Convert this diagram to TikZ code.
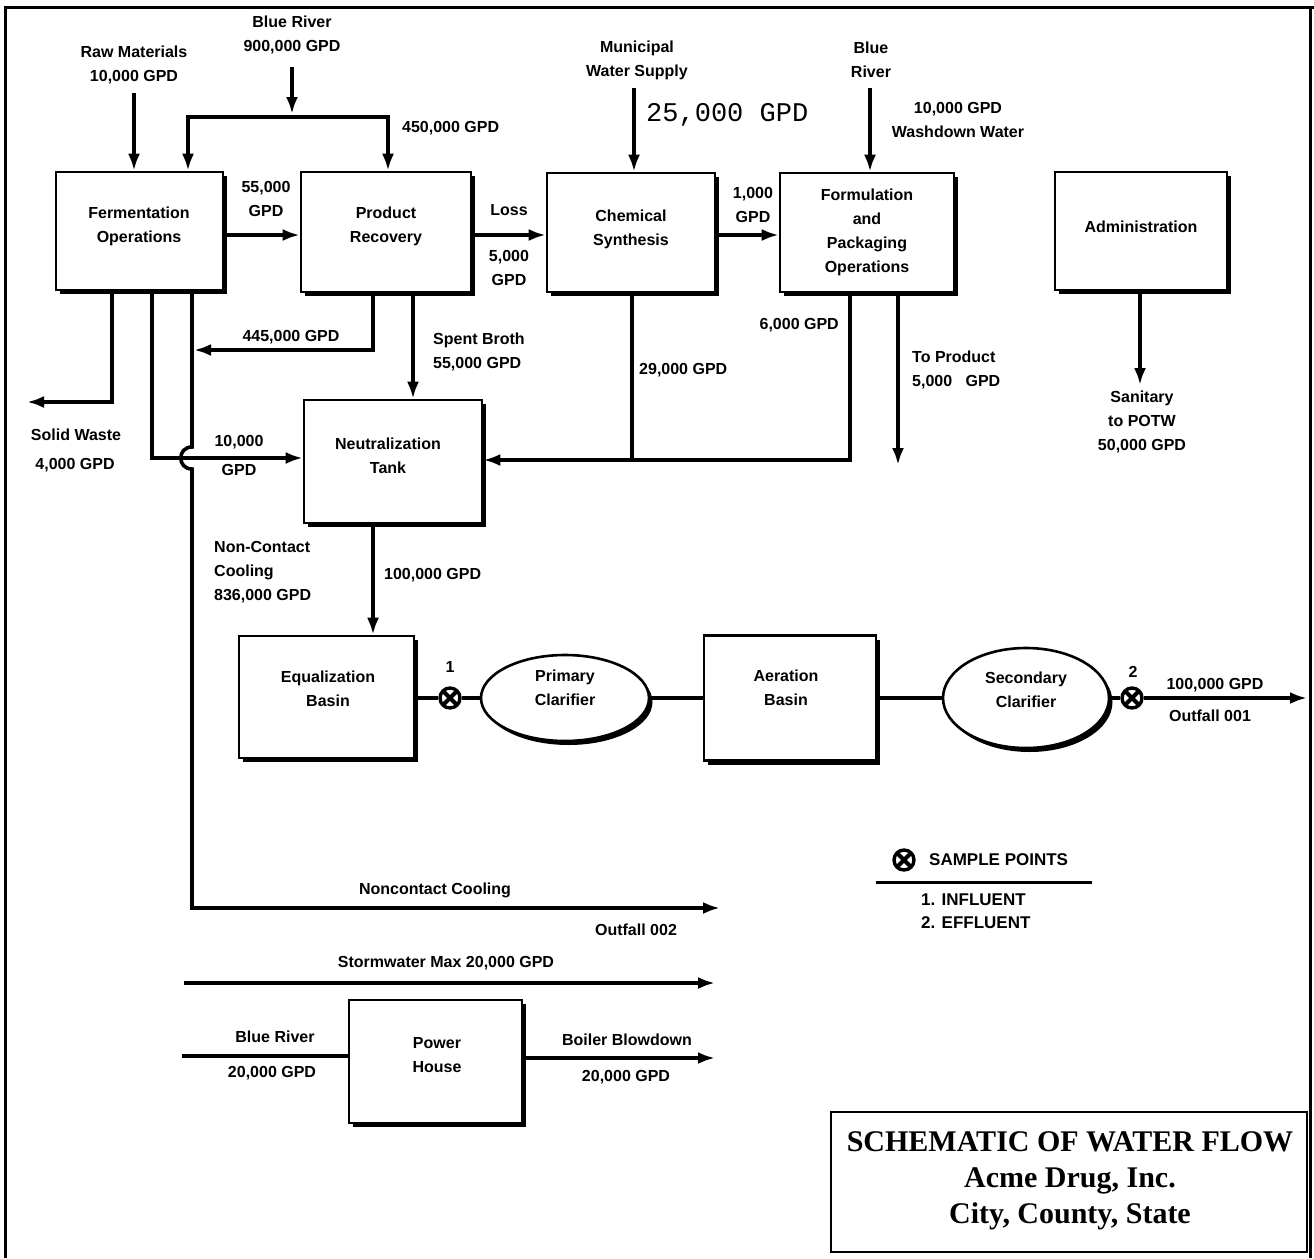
\documentclass[tikz,border=0pt]{standalone}
\usepackage{fontspec}
\setmainfont{Liberation Sans}
\newfontfamily\monofam{Liberation Mono}
\newfontfamily\titlefam{Liberation Serif}
\usetikzlibrary{arrows.meta,shapes.geometric,shadows}
\newcommand\lblfont{\bfseries\fontsize{16}{24}\selectfont}
\begin{document}
\begin{tikzpicture}[x=1pt,y=-1pt,
  >={Latex[length=17pt,width=12pt]},
  shad/.style={drop shadow={shadow xshift=3.5pt,shadow yshift=-4pt,fill=black,opacity=1}},
  box/.style 2 args={draw,line width=2.6pt,fill=white,rectangle,minimum width=#1,minimum height=#2,inner sep=0pt,shad},
  ell/.style 2 args={draw,line width=2.6pt,fill=white,ellipse,minimum width=#1,minimum height=#2,inner sep=0pt,shad},
  lbl/.style={font=\lblfont,inner sep=0pt,align=center},
  flow/.style={line width=3.6pt},
  arr/.style={flow,->},
  spt/.style={circle,draw,line width=3.4pt,fill=white,minimum size=20pt,inner sep=0pt,
     path picture={\draw[line width=4pt] (path picture bounding box.south west) -- (path picture bounding box.north east)
       (path picture bounding box.north west) -- (path picture bounding box.south east);}},
]
\useasboundingbox (0,0) rectangle (1314,1258);
% frame
\draw[line width=3pt] (5,1258) -- (5,7) -- (1314,7);
\draw[line width=3pt] (1310,7) -- (1310,1258);

% boxes
\node[box={167pt}{118pt}] (ferm) at (139.5,231) {};
\node[box={170pt}{120pt}] (prod) at (386,232) {};
\node[box={168pt}{119pt}] (chem) at (631,232.5) {};
\node[box={174pt}{119pt}] (form) at (867,232.5) {};
\node[box={172pt}{118pt}] (admin) at (1141,231) {};
\node[box={178pt}{123pt}] (neut) at (393,461.5) {};
\node[box={175pt}{122pt}] (equal) at (326.5,697) {};
\node[box={172pt}{125pt}] (aer) at (790,698) {};
\node[box={173pt}{123pt}] (power) at (435.5,1061.5) {};
\node[ell={168pt}{86pt}] (prim) at (565,698) {};
\node[ell={166pt}{100pt}] (sec) at (1026,698) {};
\node[spt] (sp1) at (450,698) {};
\node[spt] (sp2) at (1132,698) {};

% box texts
\node[lbl] (fermT) at (139,226) {Fermentation\\Operations};
\node[lbl] (prodT) at (386,226) {Product\\Recovery};
\node[lbl] (chemT) at (631,229) {Chemical\\Synthesis};
\node[lbl] (formT) at (867,232) {Formulation\\and\\Packaging\\Operations};
\node[lbl] (adminT) at (1141,227) {Administration};
\node[lbl] (neutT) at (388,456) {Neutralization\\Tank};
\node[lbl] (equalT) at (328,689) {Equalization\\Basin};
\node[lbl] (primT) at (565,688) {Primary\\Clarifier};
\node[lbl] (aerT) at (786,688) {Aeration\\Basin};
\node[lbl] (secT) at (1026,690) {Secondary\\Clarifier};
\node[lbl] (powerT) at (437,1055) {Power\\House};

% coordinates
\coordinate (row1) at (0,235);
\coordinate (rawT) at (134,93);
\coordinate (brT) at (292,67);
\coordinate (loopM) at (292,117);
\coordinate (loopL) at (188,117);
\coordinate (loopR) at (388,117);
\coordinate (munT) at (634,88);
\coordinate (br2T) at (870,88);
\coordinate (sanB) at (1140,385);
\coordinate (swC) at (112,402);
\coordinate (swE) at (27,402);
\coordinate (c10) at (152,458);
\coordinate (jA) at (192,447);
\coordinate (jB) at (192,469);
\coordinate (cC) at (192,908);
\coordinate (cE) at (720,908);
\coordinate (c445) at (373,350);
\coordinate (c445E) at (194,350);
\coordinate (sbX) at (413,0);
\coordinate (c29) at (632,460);
\coordinate (c6) at (850,460);
\coordinate (tpB) at (898,465);
\coordinate (neX) at (373,0);
\coordinate (out1) at (1307,698);
\coordinate (stS) at (184,983);
\coordinate (stE) at (715,983);
\coordinate (brP) at (182,1056);
\coordinate (bbE) at (715,1058);

% connectors
\draw[arr] (rawT) -- (rawT |- ferm.north);
\draw[arr,shorten >=3pt] (brT) -- (loopM);
\draw[flow,<->] (loopL |- ferm.north) -- (loopL) -- (loopR) -- (loopR |- prod.north);
\draw[arr] (ferm.east |- row1) -- (prod.west |- row1);
\draw[arr] (prod.east |- row1) -- (chem.west |- row1);
\draw[arr] (chem.east |- row1) -- (form.west |- row1);
\draw[arr] (munT) -- (munT |- chem.north);
\draw[arr] (br2T) -- (br2T |- form.north);
\draw[arr] (admin.south -| sanB) -- (sanB);
\draw[arr] (ferm.south -| swC) -- (swC) -- (swE);
\draw[arr] (ferm.south -| c10) -- (c10) -- (c10 -| neut.west);
\draw[arr] (ferm.south -| jA) -- (jA) .. controls (177,447) and (177,469) .. (jB) -- (cC) -- (cE);
\draw[arr] (prod.south -| c445) -- (c445) -- (c445E);
\draw[arr] (prod.south -| sbX) -- (neut.north -| sbX);
\draw[flow] (chem.south -| c29) -- (c29);
\draw[arr] (form.south -| c6) -- (c6) -- (c6 -| neut.east);
\draw[arr] (form.south -| tpB) -- (tpB);
\draw[arr] (neut.south -| neX) -- (equal.north -| neX);
\draw[flow] (equal.east |- sp1) -- (sp1);
\draw[flow] (sp1) -- (prim);
\draw[flow] (prim) -- (aer);
\draw[flow] (aer) -- (sec);
\draw[flow] (sec) -- (sp2);
\draw[arr] (sp2) -- (out1);
\draw[arr] (stS) -- (stE);
\draw[flow] (brP) -- (brP -| power.west);
\draw[arr] (power.east |- bbE) -- (bbE);

% labels
\node[lbl] (lRaw) at (134,65) {Raw Materials\\10,000 GPD};
\node[lbl] (lBR) at (292,34.5) {Blue River\\900,000 GPD};
\node[lbl,anchor=west] (l450) at (402,128) {450,000 GPD};
\node[lbl] (l55) at (266,199) {55,000\\GPD};
\node[lbl] (lLoss) at (509,210) {Loss};
\node[lbl] (l5k) at (509,268) {5,000\\GPD};
\node[lbl] (l1k) at (753,205) {1,000\\GPD};
\node[lbl] (lMun) at (637,60) {Municipal\\Water Supply};
\node[inner sep=0pt,anchor=west,font=\monofam\fontsize{27}{30}\selectfont] (l25) at (646,115) {25,000 GPD};
\node[lbl] (lBR2) at (871,60) {Blue\\River};
\node[lbl] (lWash) at (958,120) {10,000 GPD\\Washdown Water};
\node[lbl] (lSan) at (1142,422) {Sanitary\\to POTW\\50,000 GPD};
\node[lbl] (lSW) at (76,435) {Solid Waste};
\node[lbl] (lSW2) at (75,465) {4,000 GPD};
\node[lbl] (l10a) at (239,442) {10,000};
\node[lbl] (l10b) at (239,470) {GPD};
\node[lbl] (l445) at (291,337) {445,000 GPD};
\node[lbl,anchor=west,align=left] (lSB) at (433,351.5) {Spent Broth\\55,000 GPD};
\node[lbl,anchor=west] (l29) at (639,370) {29,000 GPD};
\node[lbl,anchor=east] (l6k) at (839,325) {6,000 GPD};
\node[lbl,anchor=west,align=left] (lTP) at (912,370) {To Product\\5,000\ \ \ GPD};
\node[lbl,anchor=west,align=left] (lNC) at (214,572) {Non-Contact\\Cooling\\836,000 GPD};
\node[lbl,anchor=west] (l100) at (384,575) {100,000 GPD};
\node[lbl] (lOne) at (450,667) {1};
\node[lbl] (lTwo) at (1133,672) {2};
\node[lbl] (lO1a) at (1215,685) {100,000 GPD};
\node[lbl] (lO1b) at (1210,716) {Outfall 001};
\node[lbl] (lNCC) at (435,890) {Noncontact Cooling};
\node[lbl] (lO2) at (636,930) {Outfall 002};
\node[lbl] (lSt) at (446,963) {Stormwater Max 20,000 GPD};
\node[lbl] (lBRp) at (275,1037) {Blue River};
\node[lbl] (lBRq) at (272,1073) {20,000 GPD};
\node[lbl] (lBB) at (627,1040) {Boiler Blowdown};
\node[lbl] (lBBq) at (626,1077) {20,000 GPD};

% legend
\node[spt] (lgS) at (904,860) {};
\node[lbl,anchor=west,font=\bfseries\fontsize{17}{23}\selectfont] (lgT) at (929,860) {SAMPLE POINTS};
\coordinate (lgL) at (876,882);
\coordinate (lgR) at (1092,882);
\draw[line width=3pt] (lgL) -- (lgR);
\node[lbl,anchor=west,align=left,font=\bfseries\fontsize{17}{23}\selectfont] (lgI) at (921,911.5) {1. INFLUENT\\2. EFFLUENT};

% title block
\node[draw,line width=2pt,minimum width=476pt,minimum height=140pt,inner sep=0pt] (title) at (1069,1182) {};
\node[inner sep=0pt,align=center,font=\titlefam\bfseries\fontsize{30}{36}\selectfont] (titleT) at (1070,1181) {SCHEMATIC OF WATER FLOW\\Acme Drug, Inc.\\City, County, State};
\end{tikzpicture}
\end{document}
